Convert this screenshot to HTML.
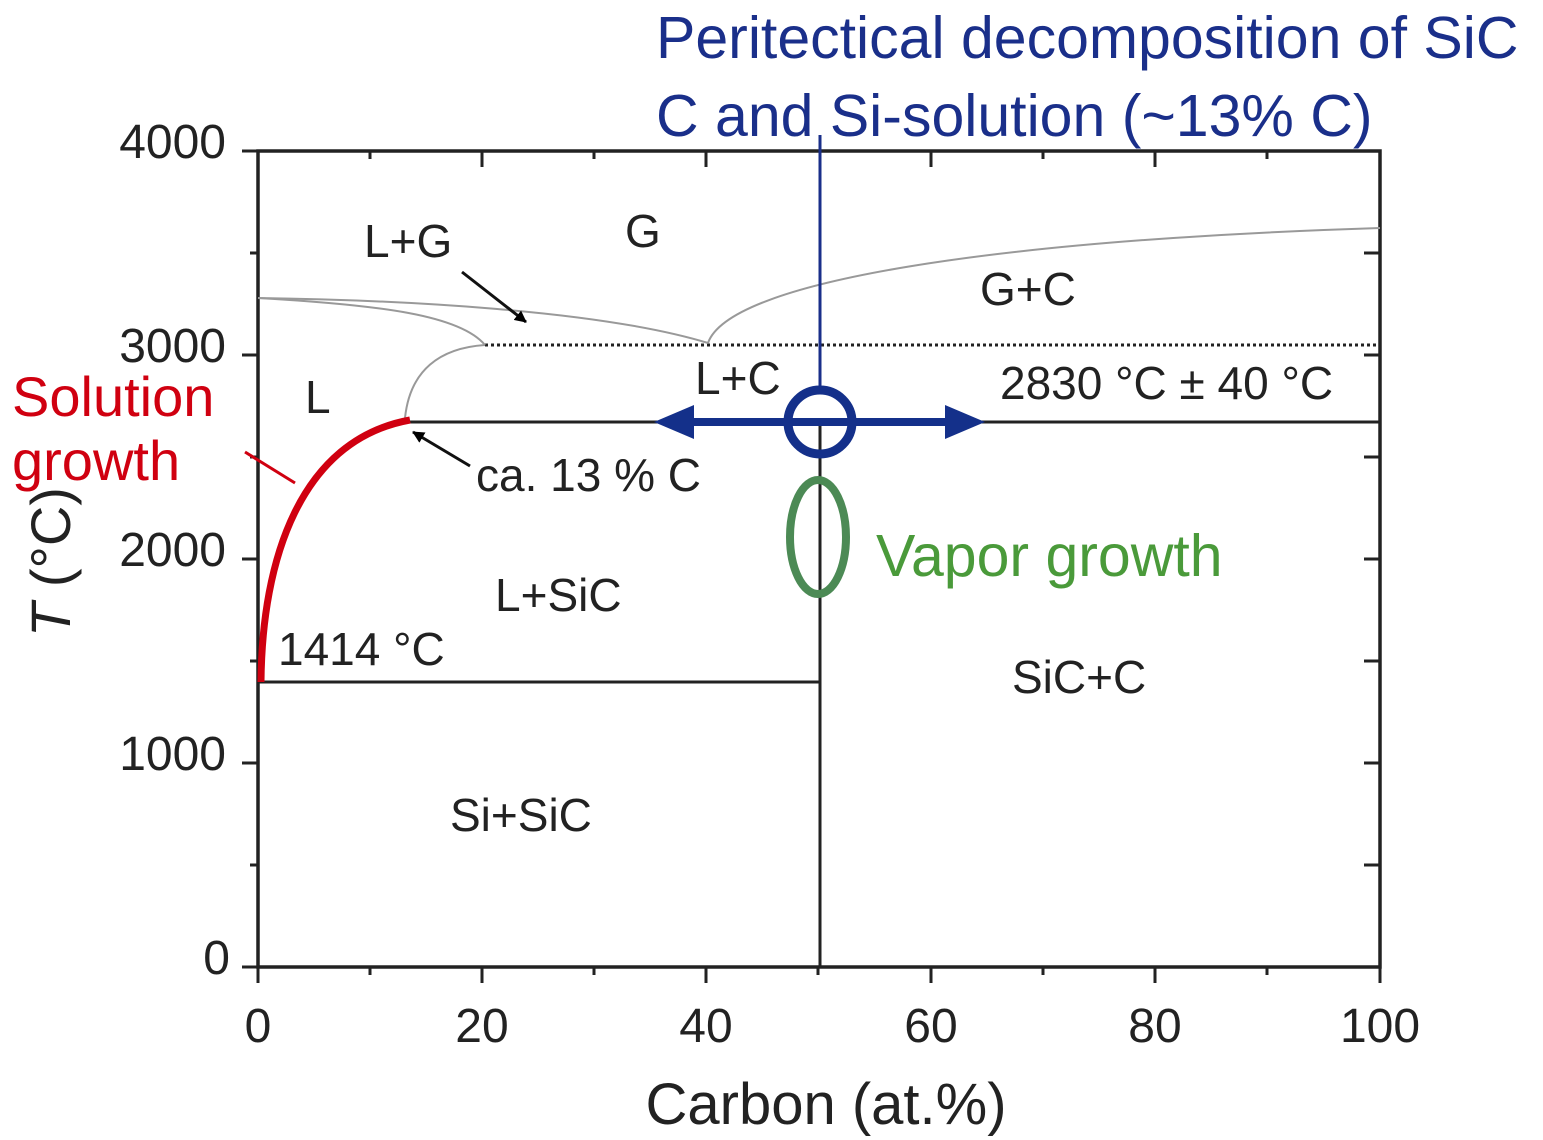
<!DOCTYPE html>
<html><head><meta charset="utf-8"><style>
html,body{margin:0;padding:0;background:#fff;}
svg{display:block;font-family:"Liberation Sans",Arial,sans-serif;}
</style></head><body>
<svg width="1543" height="1140" viewBox="0 0 1543 1140" xmlns="http://www.w3.org/2000/svg">
<defs>
<marker id="ah" markerWidth="12" markerHeight="12" refX="11" refY="6" orient="auto" markerUnits="userSpaceOnUse"><path d="M0,0 L12,6 L0,12 z" fill="#000"/></marker>
</defs>
<rect x="258" y="151" width="1122" height="816" fill="none" stroke="#222" stroke-width="3.5"/>
<g stroke="#222" stroke-width="3">
<line x1="242" y1="151" x2="258" y2="151"/><line x1="250" y1="253" x2="258" y2="253"/>
<line x1="242" y1="355" x2="258" y2="355"/><line x1="250" y1="457" x2="258" y2="457"/>
<line x1="242" y1="559" x2="258" y2="559"/><line x1="250" y1="661" x2="258" y2="661"/>
<line x1="242" y1="763" x2="258" y2="763"/><line x1="250" y1="865" x2="258" y2="865"/>
<line x1="242" y1="967" x2="258" y2="967"/>
<line x1="1364" y1="253" x2="1380" y2="253"/><line x1="1364" y1="355" x2="1380" y2="355"/>
<line x1="1364" y1="457" x2="1380" y2="457"/><line x1="1364" y1="559" x2="1380" y2="559"/>
<line x1="1364" y1="661" x2="1380" y2="661"/><line x1="1364" y1="763" x2="1380" y2="763"/>
<line x1="1364" y1="865" x2="1380" y2="865"/>
<line x1="370" y1="151" x2="370" y2="159"/><line x1="482" y1="151" x2="482" y2="167"/>
<line x1="594" y1="151" x2="594" y2="159"/><line x1="706" y1="151" x2="706" y2="167"/>
<line x1="931" y1="151" x2="931" y2="167"/><line x1="1043" y1="151" x2="1043" y2="159"/>
<line x1="1155" y1="151" x2="1155" y2="167"/><line x1="1267" y1="151" x2="1267" y2="159"/>
<line x1="258" y1="967" x2="258" y2="983"/><line x1="370" y1="967" x2="370" y2="975"/>
<line x1="482" y1="967" x2="482" y2="983"/><line x1="594" y1="967" x2="594" y2="975"/>
<line x1="706" y1="967" x2="706" y2="983"/><line x1="818" y1="967" x2="818" y2="975"/>
<line x1="931" y1="967" x2="931" y2="983"/><line x1="1043" y1="967" x2="1043" y2="975"/>
<line x1="1155" y1="967" x2="1155" y2="983"/><line x1="1267" y1="967" x2="1267" y2="975"/>
<line x1="1380" y1="967" x2="1380" y2="983"/>
</g>
<g font-size="48" fill="#222" text-anchor="end">
<text x="226" y="158">4000</text><text x="226" y="362">3000</text>
<text x="226" y="566">2000</text><text x="226" y="770">1000</text><text x="230" y="974">0</text>
</g>
<g font-size="48" fill="#222" text-anchor="middle">
<text x="258" y="1042">0</text><text x="482" y="1042">20</text><text x="706" y="1042">40</text>
<text x="931" y="1042">60</text><text x="1155" y="1042">80</text><text x="1380" y="1042">100</text>
</g>
<text x="826" y="1124" font-size="58" fill="#222" text-anchor="middle">Carbon (at.%)</text>
<text transform="translate(70,562) rotate(-90)" font-size="56" fill="#222" text-anchor="middle"><tspan font-style="italic">T</tspan> (°C)</text>
<g fill="none" stroke="#222" stroke-width="3">
<line x1="258" y1="682" x2="820" y2="682"/>
<line x1="405" y1="422" x2="1380" y2="422"/>
<line x1="820" y1="422" x2="820" y2="967"/>
</g>
<line x1="485" y1="345" x2="1380" y2="345" stroke="#222" stroke-width="3" stroke-dasharray="3,3"/>
<g fill="none" stroke="#999" stroke-width="2">
<path d="M258,298 C400,300 600,310 708,343"/>
<path d="M258,298 C380,305 460,315 485,345"/>
<path d="M405,418 C410,370 440,348 485,345"/>
<path d="M708,343 C730,280 1000,240 1380,228"/>
</g>
<path d="M261,682 C262,560 300,440 410,420" fill="none" stroke="#d00010" stroke-width="7"/>
<line x1="245" y1="452" x2="295" y2="483" stroke="#d00010" stroke-width="3"/>
<line x1="820" y1="135" x2="820" y2="390" stroke="#1a2f8a" stroke-width="3"/>
<line x1="690" y1="422" x2="950" y2="422" stroke="#14308a" stroke-width="8"/>
<path d="M654,422 L694,405 L694,439 z" fill="#14308a"/>
<path d="M985,422 L945,405 L945,439 z" fill="#14308a"/>
<circle cx="820" cy="422" r="32" fill="none" stroke="#14308a" stroke-width="9"/>
<ellipse cx="818" cy="537" rx="28" ry="57" fill="none" stroke="#4c8a55" stroke-width="8"/>
<line x1="462" y1="272" x2="526" y2="322" stroke="#111" stroke-width="3" marker-end="url(#ah)"/>
<line x1="470" y1="466" x2="413" y2="432" stroke="#111" stroke-width="3" marker-end="url(#ah)"/>
<g font-size="46" fill="#222">
<text x="625" y="247">G</text>
<text x="364" y="257">L+G</text>
<text x="980" y="305">G+C</text>
<text x="305" y="413">L</text>
<text x="695" y="394">L+C</text>
<text x="1000" y="399">2830 °C ± 40 °C</text>
<text x="476" y="491">ca. 13 % C</text>
<text x="495" y="611">L+SiC</text>
<text x="278" y="665">1414 °C</text>
<text x="1012" y="693">SiC+C</text>
<text x="450" y="831">Si+SiC</text>
</g>
<g font-size="56" fill="#d00010">
<text x="12" y="416">Solution</text>
<text x="12" y="480">growth</text>
</g>
<text x="876" y="576" font-size="59" fill="#4a9a3a">Vapor growth</text>
<g font-size="59" fill="#1a2f8a">
<text x="656" y="58">Peritectical decomposition of SiC</text>
<text x="656" y="136">C and Si-solution (~13% C)</text>
</g>
</svg>
</body></html>
